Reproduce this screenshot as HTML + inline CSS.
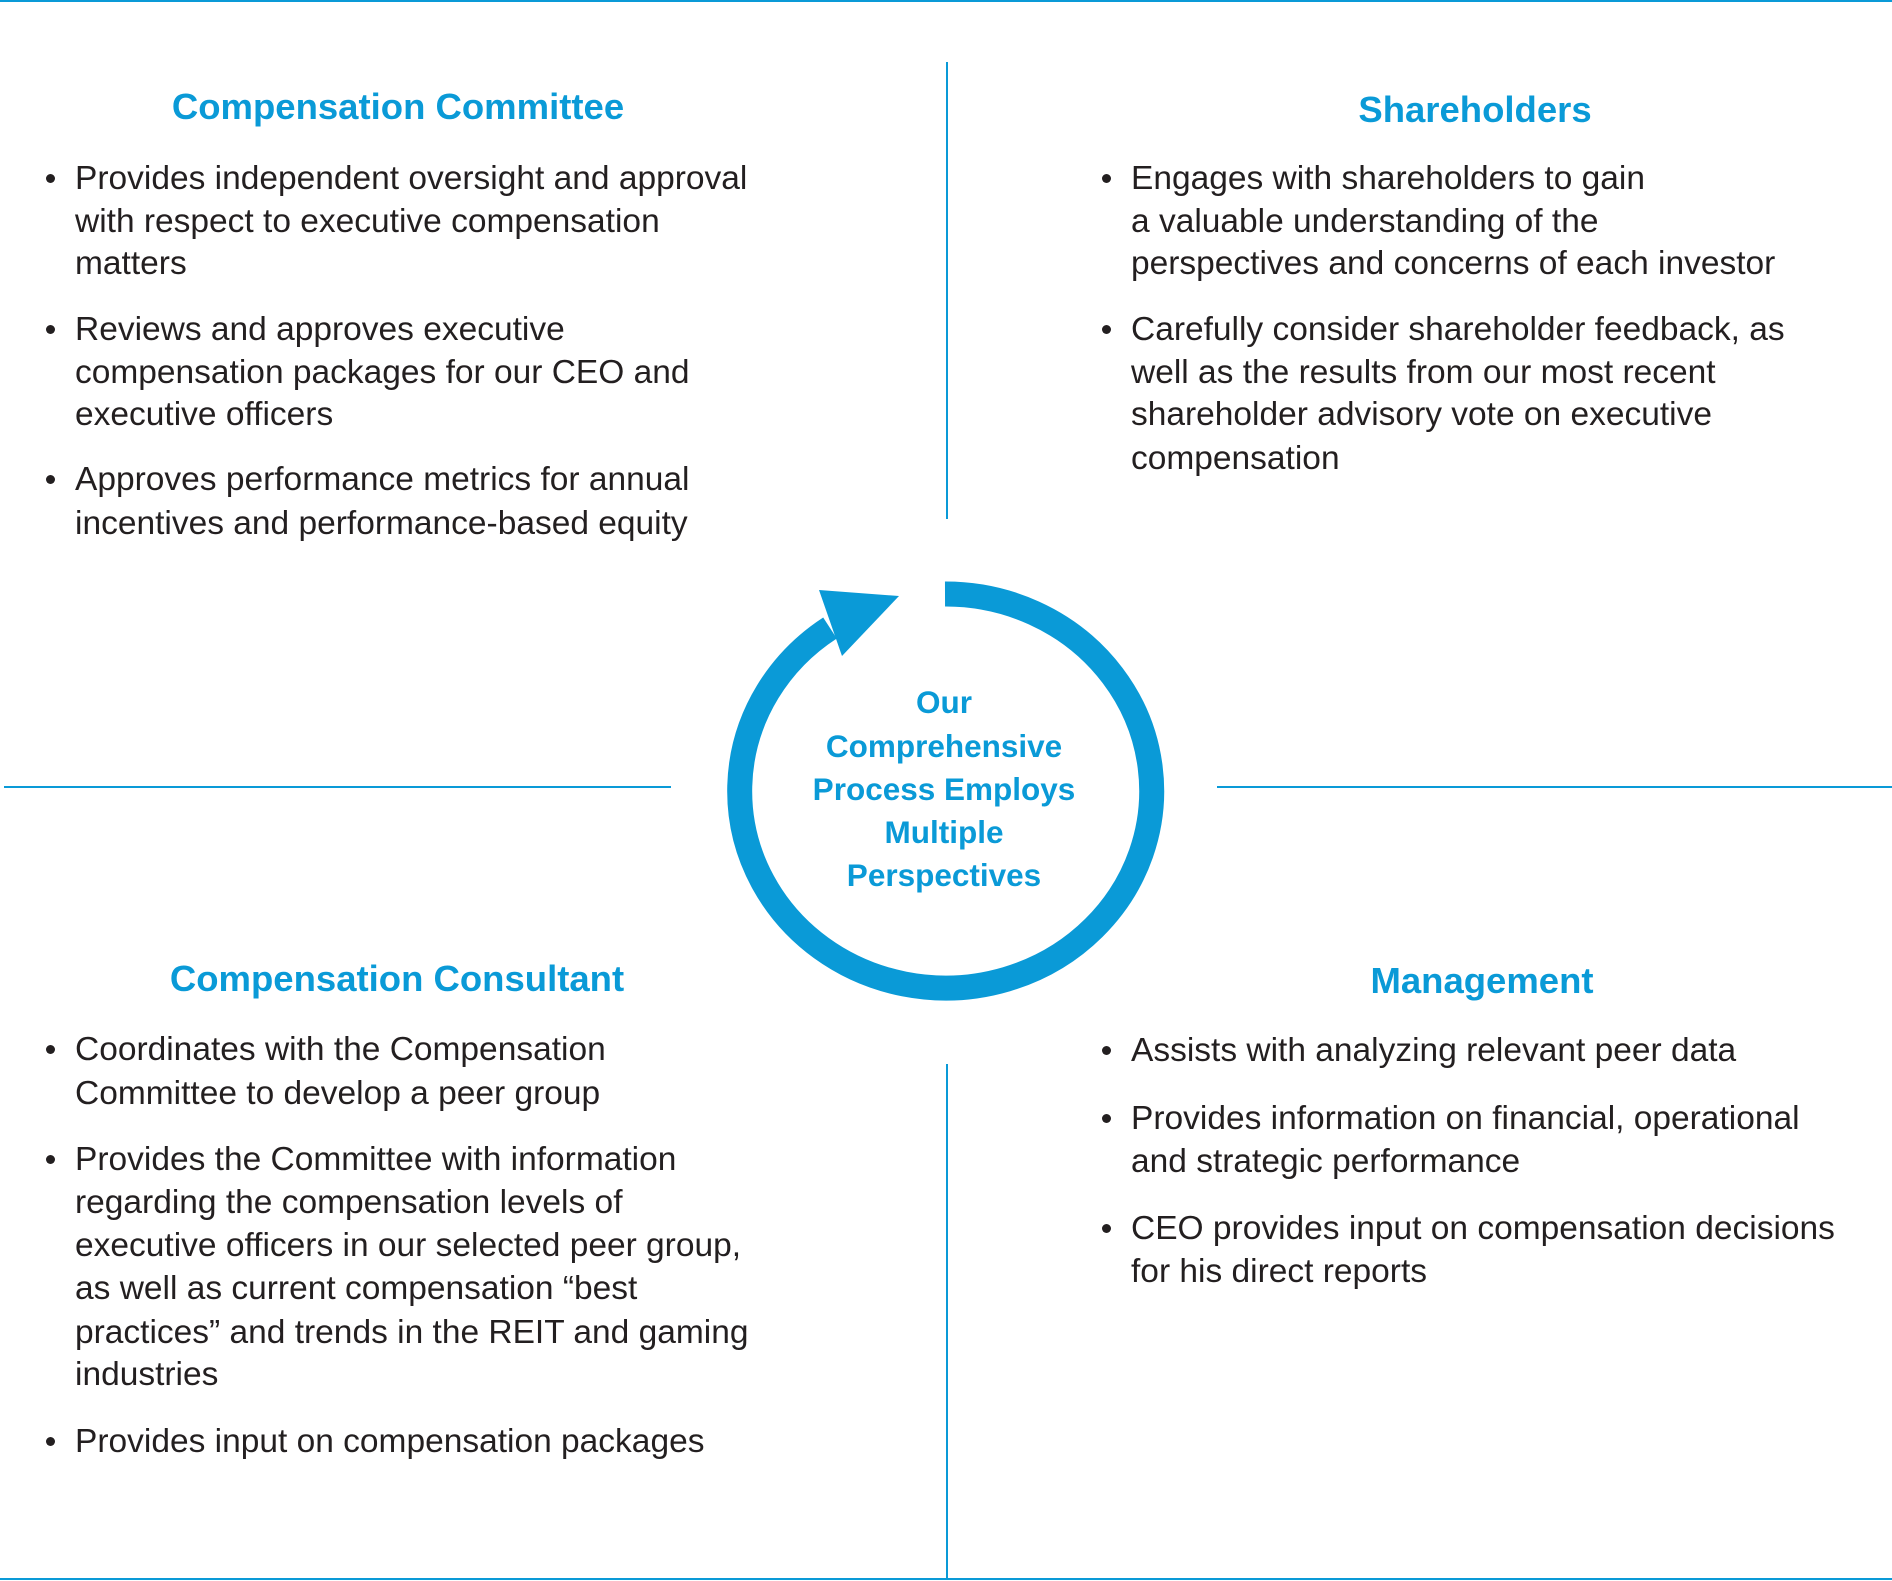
<!DOCTYPE html>
<html><head><meta charset="utf-8"><style>
body{margin:0;width:1892px;height:1581px;position:relative;background:#fff;overflow:hidden;font-family:"Liberation Sans",sans-serif;}
.l{position:absolute;white-space:nowrap;line-height:44px;height:44px;font-size:33.5px;color:#231f20;}
.t{position:absolute;white-space:nowrap;line-height:44px;height:44px;font-size:36.5px;font-weight:bold;color:#0a9ad7;transform:translateX(-50%);}
.c{position:absolute;white-space:nowrap;line-height:44px;font-size:31.5px;font-weight:bold;color:#0a9ad7;left:944px;transform:translateX(-50%);}
.b{position:absolute;width:9px;height:9px;border-radius:50%;background:#231f20;}
.ln{position:absolute;background:#0a9ad7;}
</style></head><body>
<div class="ln" style="left:0;top:0;width:1892px;height:2px"></div>
<div class="ln" style="left:0;top:1578px;width:1892px;height:2px"></div>
<div class="ln" style="left:946px;top:62px;width:2px;height:457px"></div>
<div class="ln" style="left:946px;top:1064px;width:2px;height:516px"></div>
<div class="ln" style="left:4px;top:786px;width:667px;height:2px"></div>
<div class="ln" style="left:1217px;top:786px;width:675px;height:2px"></div>

<svg style="position:absolute;left:0;top:0" width="1892" height="1581">
<path d="M945 594 A206 197 0 1 1 830 628" fill="none" stroke="#0a9ad7" stroke-width="25"/>
<polygon points="819,590 899,596 842,656" fill="#0a9ad7"/>
</svg>

<div class="t" style="left:398px;top:85px">Compensation Committee</div>
<div class="b" style="left:46px;top:174px"></div>
<div class="l" style="left:75px;top:157px">Provides independent oversight and approval</div>
<div class="l" style="left:75px;top:200px">with respect to executive compensation</div>
<div class="l" style="left:75px;top:242px">matters</div>
<div class="b" style="left:46px;top:325px"></div>
<div class="l" style="left:75px;top:308px">Reviews and approves executive</div>
<div class="l" style="left:75px;top:351px">compensation packages for our CEO and</div>
<div class="l" style="left:75px;top:393px">executive officers</div>
<div class="b" style="left:46px;top:475px"></div>
<div class="l" style="left:75px;top:458px">Approves performance metrics for annual</div>
<div class="l" style="left:75px;top:502px">incentives and performance-based equity</div>

<div class="t" style="left:1475px;top:88px">Shareholders</div>
<div class="b" style="left:1102px;top:174px"></div>
<div class="l" style="left:1131px;top:157px">Engages with shareholders to gain</div>
<div class="l" style="left:1131px;top:200px">a valuable understanding of the</div>
<div class="l" style="left:1131px;top:242px">perspectives and concerns of each investor</div>
<div class="b" style="left:1102px;top:325px"></div>
<div class="l" style="left:1131px;top:308px">Carefully consider shareholder feedback, as</div>
<div class="l" style="left:1131px;top:351px">well as the results from our most recent</div>
<div class="l" style="left:1131px;top:393px">shareholder advisory vote on executive</div>
<div class="l" style="left:1131px;top:437px">compensation</div>

<div class="t" style="left:397px;top:957px">Compensation Consultant</div>
<div class="b" style="left:46px;top:1045px"></div>
<div class="l" style="left:75px;top:1028px">Coordinates with the Compensation</div>
<div class="l" style="left:75px;top:1072px">Committee to develop a peer group</div>
<div class="b" style="left:46px;top:1155px"></div>
<div class="l" style="left:75px;top:1138px">Provides the Committee with information</div>
<div class="l" style="left:75px;top:1181px">regarding the compensation levels of</div>
<div class="l" style="left:75px;top:1224px">executive officers in our selected peer group,</div>
<div class="l" style="left:75px;top:1267px">as well as current compensation “best</div>
<div class="l" style="left:75px;top:1311px">practices” and trends in the REIT and gaming</div>
<div class="l" style="left:75px;top:1353px">industries</div>
<div class="b" style="left:46px;top:1437px"></div>
<div class="l" style="left:75px;top:1420px">Provides input on compensation packages</div>

<div class="t" style="left:1482px;top:959px">Management</div>
<div class="b" style="left:1102px;top:1046px"></div>
<div class="l" style="left:1131px;top:1029px">Assists with analyzing relevant peer data</div>
<div class="b" style="left:1102px;top:1114px"></div>
<div class="l" style="left:1131px;top:1097px">Provides information on financial, operational</div>
<div class="l" style="left:1131px;top:1140px">and strategic performance</div>
<div class="b" style="left:1102px;top:1224px"></div>
<div class="l" style="left:1131px;top:1207px">CEO provides input on compensation decisions</div>
<div class="l" style="left:1131px;top:1250px">for his direct reports</div>

<div class="c" style="top:680px">Our</div>
<div class="c" style="top:724px">Comprehensive</div>
<div class="c" style="top:767px">Process Employs</div>
<div class="c" style="top:810px">Multiple</div>
<div class="c" style="top:853px">Perspectives</div>
</body></html>
